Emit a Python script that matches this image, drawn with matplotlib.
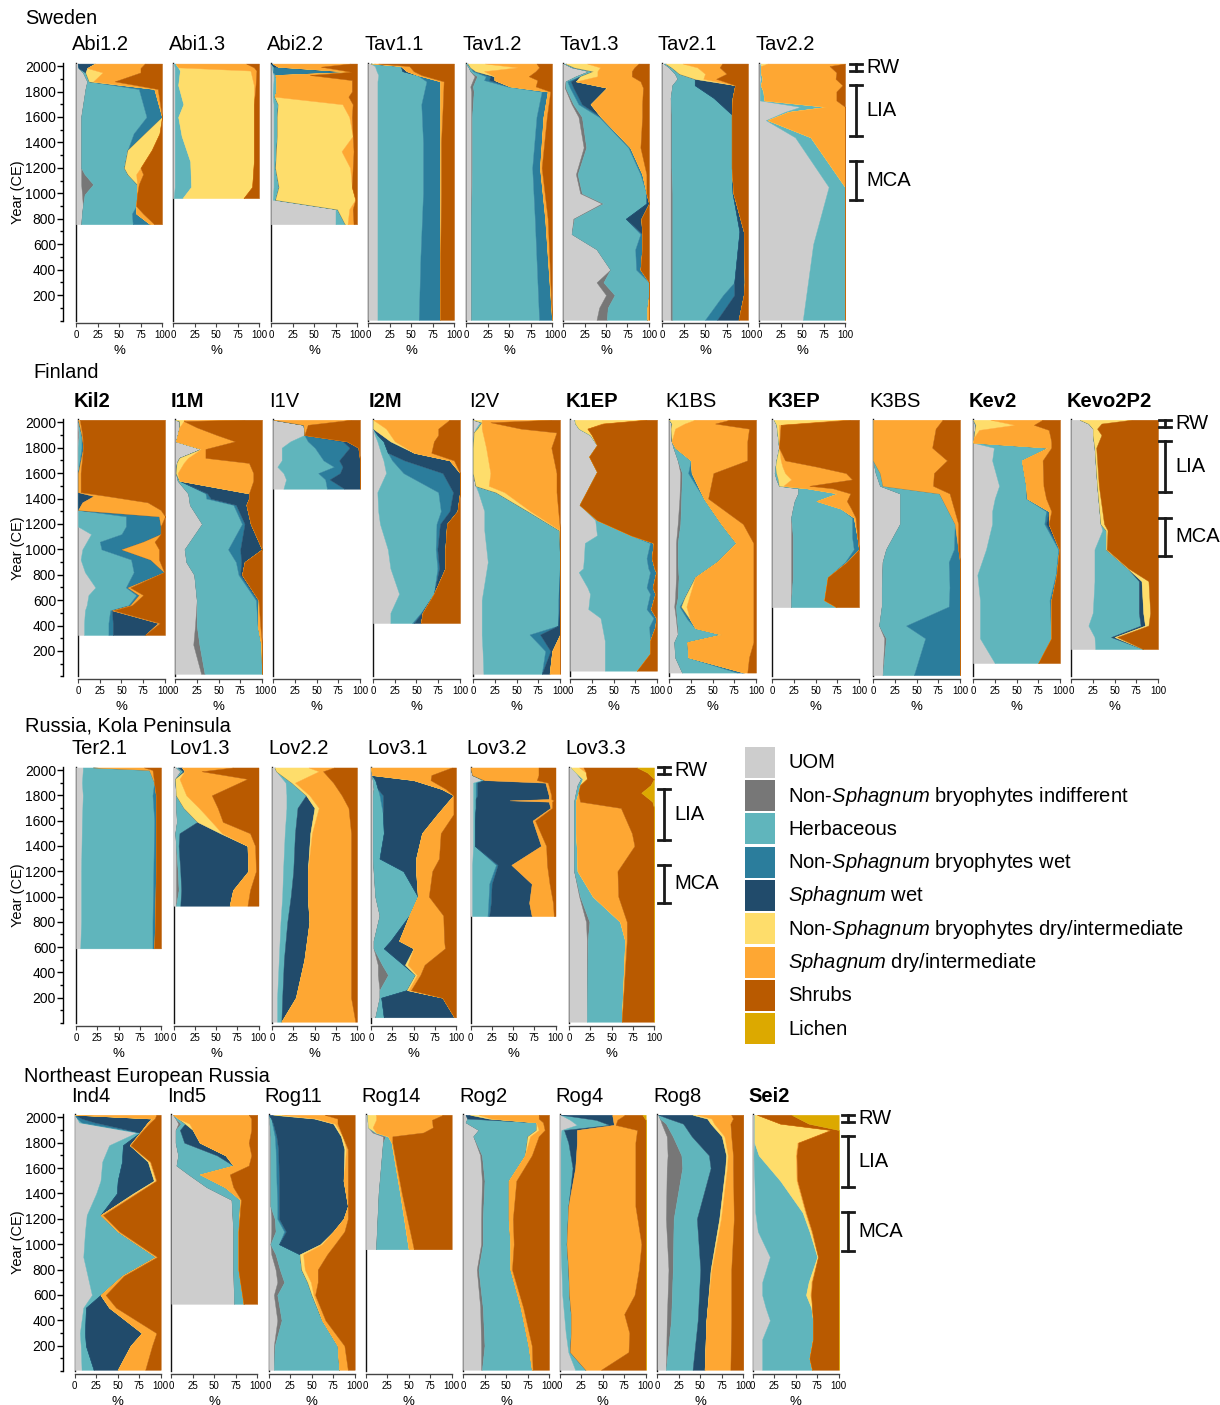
import matplotlib
matplotlib.use('Agg')
import matplotlib.pyplot as plt
from matplotlib.patches import Rectangle
import numpy as np

plt.rcParams['font.family'] = ['Liberation Sans', 'DejaVu Sans']
plt.rcParams['mathtext.fontset'] = 'custom'
plt.rcParams['mathtext.rm'] = 'Liberation Sans'
plt.rcParams['mathtext.it'] = 'Liberation Sans:italic'

GROUPS = ['UOM',
          'Non-$\\mathit{Sphagnum}$ bryophytes indifferent',
          'Herbaceous',
          'Non-$\\mathit{Sphagnum}$ bryophytes wet',
          '$\\mathit{Sphagnum}$ wet',
          'Non-$\\mathit{Sphagnum}$ bryophytes dry/intermediate',
          '$\\mathit{Sphagnum}$ dry/intermediate',
          'Shrubs',
          'Lichen']
COLOURS = ['#cdcdcd', '#777777', '#60b5bc', '#2b7d9c', '#214b6b',
           '#fedd6b', '#fea733', '#b95a00', '#dca900']

PERIODS = [('RW', 1965, 2020), ('LIA', 1450, 1850), ('MCA', 950, 1250)]

# rows: year CE, then % for each group in GROUPS order
# ---- Sweden
abi1_2 = [(2020, 2, 0, 0, 0, 20, 0, 58, 20, 0), (1985, 3, 0, 0, 0, 10, 0, 62, 25, 0),
          (1950, 8, 0, 3, 0, 0, 20, 44, 25, 0), (1880, 13, 0, 2, 0, 0, 5, 25, 55, 0),
          (1820, 11, 0, 62, 18, 0, 0, 4, 5, 0), (1600, 6, 0, 76, 18, 0, 0, 0, 0, 0),
          (1470, 6, 0, 61, 13, 0, 17, 0, 3, 0), (1340, 6, 0, 54, 0, 0, 28, 0, 12, 0),
          (1200, 6, 0, 50, 0, 0, 19, 0, 25, 0), (1150, 6, 4, 50, 0, 0, 10, 8, 22, 0),
          (1070, 6, 14, 51, 0, 0, 0, 2, 27, 0), (990, 7, 3, 61, 0, 0, 0, 0, 29, 0),
          (900, 8, 0, 62, 0, 0, 0, 0, 30, 0), (840, 7, 0, 58, 5, 0, 0, 8, 22, 0),
          (757, 6, 0, 60, 20, 0, 0, 5, 9, 0)]
abi1_3 = [(2020, 1, 0, 2, 0, 0, 0, 82, 15, 0), (1990, 2, 0, 4, 0, 0, 0, 88, 6, 0),
          (1965, 2, 0, 6, 0, 0, 82, 7, 3, 0), (1850, 2, 0, 4, 0, 0, 88, 2, 4, 0),
          (1700, 2, 0, 10, 0, 0, 82, 0, 6, 0), (1600, 2, 0, 4, 0, 0, 88, 0, 6, 0),
          (1450, 2, 0, 8, 0, 0, 84, 0, 6, 0), (1250, 2, 0, 18, 0, 0, 74, 0, 6, 0),
          (1050, 2, 0, 19, 0, 0, 71, 0, 8, 0), (962, 1, 0, 10, 0, 0, 71, 0, 18, 0)]
abi2_2 = [(2020, 0, 0, 0, 0, 2, 0, 90, 8, 0), (1995, 1, 0, 2, 0, 5, 0, 50, 42, 0),
          (1955, 2, 0, 0, 88, 4, 0, 0, 6, 0), (1930, 3, 0, 2, 0, 0, 0, 40, 55, 0),
          (1890, 3, 0, 3, 0, 0, 0, 88, 6, 0), (1800, 2, 0, 4, 0, 0, 0, 88, 6, 0),
          (1760, 2, 0, 2, 0, 0, 0, 86, 10, 0), (1700, 3, 0, 5, 0, 0, 75, 12, 5, 0),
          (1600, 3, 0, 4, 0, 0, 84, 3, 6, 0), (1450, 3, 0, 4, 0, 0, 88, 0, 5, 0),
          (1330, 3, 0, 3, 0, 0, 76, 14, 4, 0), (1200, 3, 0, 2, 0, 0, 87, 3, 5, 0),
          (1050, 3, 0, 6, 0, 0, 85, 0, 6, 0), (950, 2, 0, 3, 0, 0, 93, 0, 2, 0),
          (875, 75, 0, 2, 0, 0, 14, 4, 5, 0), (757, 75, 0, 11, 0, 0, 3, 7, 4, 0)]
tav1_1 = [(2020, 3, 0, 0, 0, 0, 4, 5, 88, 0), (2000, 8, 0, 30, 0, 0, 0, 10, 52, 0),
          (1960, 10, 0, 30, 0, 5, 0, 8, 47, 0), (1930, 12, 0, 45, 0, 0, 0, 5, 38, 0),
          (1880, 11, 0, 57, 16, 0, 0, 4, 12, 0), (1700, 11, 0, 51, 22, 0, 0, 3, 13, 0),
          (1400, 11, 0, 53, 20, 0, 0, 1, 15, 0), (1000, 11, 0, 53, 20, 0, 0, 1, 15, 0),
          (500, 11, 0, 50, 23, 0, 0, 0, 16, 0), (5, 11, 0, 48, 25, 0, 0, 0, 16, 0)]
tav1_2 = [(2020, 0, 0, 2, 0, 0, 20, 60, 18, 0), (1990, 3, 0, 2, 0, 0, 55, 25, 15, 0),
          (1960, 5, 0, 3, 3, 0, 10, 60, 19, 0), (1920, 10, 3, 10, 5, 5, 0, 40, 27, 0),
          (1890, 8, 3, 10, 6, 6, 0, 50, 17, 0), (1840, 5, 3, 40, 3, 0, 0, 30, 19, 0),
          (1800, 6, 3, 79, 7, 0, 0, 3, 2, 0), (1600, 6, 1, 75, 8, 0, 0, 4, 6, 0),
          (1200, 6, 1, 70, 9, 0, 0, 2, 12, 0), (800, 6, 0, 74, 12, 0, 0, 3, 5, 0),
          (5, 6, 0, 79, 15, 0, 0, 0, 0, 0)]
tav1_3 = [(2020, 1, 0, 2, 0, 0, 25, 60, 12, 0), (1990, 10, 0, 3, 0, 0, 30, 40, 17, 0),
          (1960, 30, 0, 5, 0, 0, 5, 40, 20, 0), (1920, 15, 0, 5, 0, 0, 20, 40, 20, 0),
          (1880, 3, 0, 2, 4, 6, 0, 75, 10, 0), (1830, 2, 1, 5, 4, 39, 0, 42, 7, 0),
          (1700, 10, 2, 6, 4, 10, 0, 60, 8, 0), (1600, 18, 4, 20, 2, 0, 0, 48, 8, 0),
          (1360, 24, 3, 49, 2, 0, 0, 12, 10, 0), (1150, 15, 2, 73, 2, 0, 0, 5, 3, 0),
          (1000, 20, 2, 75, 0, 0, 0, 0, 3, 0), (920, 45, 2, 50, 0, 3, 0, 0, 0, 0),
          (800, 12, 1, 60, 0, 18, 0, 0, 9, 0), (680, 10, 0, 80, 2, 0, 0, 0, 8, 0),
          (560, 39, 0, 45, 8, 0, 0, 0, 8, 0), (400, 55, 0, 30, 5, 0, 0, 0, 10, 0),
          (300, 39, 8, 53, 0, 0, 0, 0, 0, 0), (200, 50, 10, 40, 0, 0, 0, 0, 0, 0),
          (100, 42, 10, 46, 0, 0, 0, 2, 0, 0), (5, 39, 12, 47, 0, 0, 0, 2, 0, 0)]
tav2_1 = [(2020, 2, 0, 2, 0, 0, 20, 46, 30, 0), (1990, 8, 0, 3, 0, 0, 30, 26, 33, 0),
          (1940, 15, 0, 5, 0, 0, 30, 25, 25, 0), (1900, 18, 0, 20, 0, 0, 10, 15, 37, 0),
          (1850, 12, 0, 26, 0, 47, 0, 0, 15, 0), (1750, 10, 0, 50, 0, 22, 0, 0, 18, 0),
          (1620, 10, 1, 70, 0, 0, 0, 0, 19, 0), (1200, 10, 1, 70, 0, 0, 0, 0, 19, 0),
          (1000, 10, 2, 70, 0, 1, 0, 0, 17, 0), (700, 10, 2, 78, 0, 5, 0, 0, 5, 0),
          (300, 10, 2, 72, 0, 12, 0, 0, 4, 0), (200, 10, 2, 59, 13, 11, 0, 0, 5, 0),
          (5, 10, 2, 38, 14, 25, 0, 0, 11, 0)]
tav2_2 = [(2020, 2, 0, 0, 0, 0, 8, 90, 0, 0), (2000, 1, 0, 1, 0, 0, 0, 80, 18, 0),
          (1950, 1, 0, 1, 0, 0, 0, 88, 10, 0), (1900, 2, 0, 2, 0, 0, 0, 85, 11, 0),
          (1850, 1, 0, 1, 0, 0, 0, 95, 3, 0), (1800, 1, 0, 4, 0, 0, 0, 85, 10, 0),
          (1730, 1, 0, 5, 0, 0, 0, 84, 10, 0), (1680, 48, 0, 30, 0, 0, 0, 22, 0, 0),
          (1640, 30, 0, 4, 0, 0, 0, 66, 0, 0), (1575, 8, 0, 2, 0, 0, 0, 90, 0, 0),
          (1440, 42, 0, 18, 0, 0, 0, 40, 0, 0), (1050, 81, 0, 19, 0, 0, 0, 0, 0, 0),
          (600, 63, 0, 37, 0, 0, 0, 0, 0, 0), (5, 51, 0, 49, 0, 0, 0, 0, 0, 0)]

# ---- Finland
kil2 = [(2020, 0, 0, 0, 0, 0, 0, 2, 98, 0), (1900, 1, 0, 3, 0, 0, 0, 1, 95, 0),
        (1800, 0, 0, 4, 2, 0, 0, 0, 94, 0), (1600, 0, 0, 0, 0, 0, 0, 3, 97, 0),
        (1450, 0, 0, 0, 0, 0, 0, 3, 97, 0), (1420, 0, 0, 0, 0, 18, 0, 15, 67, 0),
        (1370, 0, 0, 0, 0, 5, 0, 75, 20, 0), (1310, 0, 0, 0, 0, 0, 0, 95, 5, 0),
        (1260, 0, 0, 55, 38, 0, 0, 7, 0, 0), (1180, 0, 0, 55, 40, 0, 0, 0, 5, 0),
        (1120, 15, 0, 35, 45, 0, 0, 0, 5, 0), (1060, 10, 0, 15, 50, 0, 0, 13, 12, 0),
        (1000, 5, 0, 22, 23, 0, 0, 43, 7, 0), (920, 3, 0, 58, 22, 0, 0, 10, 7, 0),
        (820, 8, 0, 56, 35, 0, 0, 0, 1, 0), (700, 20, 0, 35, 2, 0, 0, 3, 40, 0),
        (640, 12, 0, 55, 3, 0, 0, 5, 25, 0), (560, 10, 0, 48, 2, 0, 0, 2, 38, 0),
        (520, 8, 0, 29, 2, 0, 0, 2, 59, 0), (420, 7, 0, 28, 5, 52, 0, 2, 6, 0),
        (326, 7, 0, 28, 5, 37, 0, 0, 23, 0)]
i1m = [(2020, 0, 0, 0, 0, 0, 10, 70, 20, 0), (2010, 5, 0, 0, 0, 0, 5, 0, 90, 0),
       (1960, 5, 0, 0, 0, 0, 0, 20, 75, 0), (1900, 3, 0, 0, 0, 0, 0, 45, 52, 0),
       (1850, 1, 0, 0, 0, 0, 0, 68, 31, 0), (1790, 30, 0, 0, 0, 0, 0, 5, 65, 0),
       (1720, 5, 0, 0, 0, 0, 10, 20, 65, 0), (1680, 2, 0, 0, 0, 0, 8, 75, 15, 0),
       (1600, 1, 0, 0, 0, 0, 2, 87, 10, 0), (1540, 3, 0, 2, 0, 0, 0, 85, 10, 0),
       (1440, 15, 0, 20, 2, 48, 0, 0, 15, 0), (1400, 16, 0, 20, 5, 44, 0, 0, 15, 0),
       (1350, 17, 0, 50, 3, 12, 0, 0, 18, 0), (1200, 31, 0, 46, 3, 7, 0, 0, 13, 0),
       (1000, 11, 0, 50, 14, 25, 0, 0, 0, 0), (900, 13, 0, 57, 6, 4, 0, 0, 20, 0),
       (800, 22, 0, 51, 2, 2, 0, 0, 23, 0), (600, 25, 0, 68, 2, 1, 0, 0, 4, 0),
       (400, 23, 2, 70, 0, 0, 0, 3, 2, 0), (250, 21, 7, 71, 0, 0, 0, 1, 0, 0),
       (20, 30, 4, 66, 0, 0, 0, 0, 0, 0)]
i1v = [(2020, 0, 0, 0, 0, 0, 0, 90, 10, 0), (1980, 35, 0, 0, 0, 0, 0, 5, 60, 0),
       (1900, 36, 0, 0, 0, 0, 0, 0, 64, 0), (1850, 20, 0, 20, 40, 5, 0, 0, 15, 0),
       (1800, 10, 0, 38, 40, 10, 0, 0, 2, 0), (1700, 10, 0, 48, 18, 24, 0, 0, 0, 0),
       (1650, 5, 0, 65, 10, 20, 0, 0, 0, 0), (1600, 12, 0, 40, 25, 23, 0, 0, 0, 0),
       (1550, 15, 0, 45, 5, 35, 0, 0, 0, 0), (1477, 12, 0, 50, 20, 18, 0, 0, 0, 0)]
i2m = [(2020, 0, 0, 0, 0, 0, 0, 88, 12, 0), (1950, 0, 0, 0, 0, 0, 15, 60, 25, 0),
       (1900, 2, 0, 3, 0, 5, 10, 55, 25, 0), (1850, 5, 0, 7, 0, 8, 5, 45, 30, 0),
       (1760, 9, 0, 8, 0, 30, 0, 20, 33, 0), (1700, 12, 0, 10, 14, 52, 0, 5, 7, 0),
       (1600, 15, 0, 20, 45, 20, 0, 0, 0, 0), (1450, 5, 0, 70, 17, 8, 0, 0, 0, 0),
       (1300, 6, 0, 72, 10, 9, 0, 0, 3, 0), (1200, 8, 0, 65, 4, 8, 0, 0, 15, 0),
       (1000, 17, 0, 55, 2, 9, 0, 0, 17, 0), (850, 20, 0, 54, 2, 7, 0, 0, 17, 0),
       (650, 30, 0, 40, 0, 0, 0, 0, 30, 0), (500, 20, 0, 35, 1, 1, 0, 0, 43, 0),
       (420, 20, 0, 25, 2, 8, 0, 0, 45, 0)]
i2v = [(2020, 0, 0, 0, 0, 0, 10, 80, 10, 0), (2000, 8, 0, 2, 0, 0, 0, 10, 80, 0),
       (1950, 3, 0, 2, 0, 0, 5, 45, 45, 0), (1920, 1, 0, 0, 0, 0, 10, 85, 4, 0),
       (1800, 0, 0, 0, 0, 0, 15, 75, 10, 0), (1600, 0, 0, 0, 0, 0, 20, 76, 4, 0),
       (1500, 3, 0, 0, 0, 0, 15, 78, 4, 0), (1450, 6, 0, 20, 0, 0, 10, 60, 4, 0),
       (1300, 13, 0, 50, 0, 0, 3, 32, 2, 0), (1150, 13, 0, 86, 0, 0, 1, 0, 0, 0),
       (900, 17, 0, 83, 0, 0, 0, 0, 0, 0), (600, 10, 0, 88, 1, 1, 0, 0, 0, 0),
       (400, 10, 0, 88, 0, 2, 0, 0, 0, 0), (330, 10, 0, 55, 12, 23, 0, 0, 0, 0),
       (200, 11, 0, 72, 6, 2, 0, 9, 0, 0), (20, 12, 0, 67, 0, 9, 0, 12, 0, 0)]
k1ep = [(2020, 5, 0, 0, 0, 0, 80, 3, 12, 0), (1990, 6, 0, 0, 0, 0, 30, 2, 62, 0),
        (1950, 10, 0, 0, 0, 0, 10, 0, 80, 0), (1900, 23, 0, 0, 0, 0, 2, 0, 75, 0),
        (1820, 31, 0, 0, 0, 0, 0, 0, 69, 0), (1730, 22, 0, 0, 0, 0, 0, 0, 78, 0),
        (1610, 31, 0, 0, 0, 0, 0, 0, 69, 0), (1350, 11, 0, 0, 0, 0, 0, 0, 89, 0),
        (1230, 29, 0, 2, 0, 0, 0, 0, 69, 0), (1110, 31, 0, 39, 0, 0, 0, 0, 30, 0),
        (1050, 17, 0, 75, 4, 0, 0, 0, 4, 0), (930, 16, 0, 72, 6, 0, 0, 0, 6, 0),
        (850, 15, 0, 75, 7, 0, 0, 0, 3, 0), (820, 10, 0, 82, 7, 0, 0, 0, 1, 0),
        (700, 20, 0, 68, 7, 0, 0, 0, 5, 0), (650, 23, 0, 69, 6, 0, 0, 0, 2, 0),
        (530, 21, 0, 67, 5, 0, 0, 0, 7, 0), (460, 35, 0, 61, 3, 0, 0, 0, 1, 0),
        (390, 37, 0, 54, 7, 0, 0, 0, 2, 0), (280, 40, 0, 52, 0, 0, 0, 0, 8, 0),
        (180, 40, 0, 52, 0, 0, 0, 0, 8, 0), (45, 40, 0, 37, 0, 0, 0, 0, 23, 0)]
k1bs = [(2020, 0, 0, 0, 0, 0, 30, 40, 30, 0), (1990, 3, 0, 0, 0, 0, 15, 35, 47, 0),
        (1950, 2, 0, 0, 0, 0, 5, 85, 8, 0), (1850, 3, 0, 0, 0, 0, 0, 87, 10, 0),
        (1800, 5, 0, 2, 0, 0, 0, 83, 10, 0), (1700, 10, 0, 15, 0, 0, 0, 65, 10, 0),
        (1600, 13, 2, 7, 4, 0, 0, 25, 49, 0), (1400, 12, 2, 26, 0, 0, 0, 5, 55, 0),
        (1200, 10, 3, 47, 0, 0, 0, 25, 15, 0), (1050, 8, 2, 67, 0, 0, 0, 20, 3, 0),
        (900, 8, 2, 45, 0, 0, 0, 42, 3, 0), (780, 8, 3, 19, 0, 0, 0, 67, 3, 0),
        (620, 7, 3, 8, 0, 0, 5, 74, 3, 0), (550, 6, 2, 4, 2, 0, 6, 77, 3, 0),
        (450, 8, 1, 12, 3, 0, 0, 73, 3, 0), (380, 9, 1, 20, 0, 0, 0, 67, 3, 0),
        (330, 10, 0, 50, 0, 0, 0, 37, 3, 0), (270, 6, 0, 15, 0, 0, 0, 76, 3, 0),
        (150, 7, 0, 15, 0, 0, 0, 70, 8, 0), (30, 15, 0, 63, 6, 2, 0, 4, 10, 0)]
k3ep = [(2020, 2, 0, 0, 0, 0, 80, 8, 10, 0), (1980, 5, 0, 0, 0, 0, 3, 2, 90, 0),
        (1800, 8, 0, 0, 0, 0, 0, 0, 92, 0), (1700, 5, 0, 0, 0, 0, 5, 5, 85, 0),
        (1650, 4, 0, 0, 0, 0, 8, 40, 48, 0), (1600, 3, 0, 2, 0, 0, 10, 70, 15, 0),
        (1550, 5, 0, 2, 0, 0, 15, 70, 8, 0), (1500, 8, 0, 0, 0, 0, 5, 30, 57, 0),
        (1480, 30, 0, 10, 0, 0, 0, 30, 30, 0), (1440, 30, 0, 45, 0, 0, 0, 15, 10, 0),
        (1380, 26, 0, 25, 0, 0, 0, 35, 14, 0), (1320, 24, 0, 55, 0, 0, 0, 12, 9, 0),
        (1250, 22, 0, 70, 2, 0, 0, 2, 4, 0), (1100, 22, 2, 68, 6, 0, 0, 0, 2, 0),
        (1000, 22, 2, 70, 6, 0, 0, 0, 0, 0), (900, 22, 2, 60, 2, 0, 0, 0, 14, 0),
        (780, 22, 2, 40, 0, 0, 0, 0, 36, 0), (600, 22, 0, 38, 0, 0, 0, 0, 40, 0),
        (545, 22, 0, 52, 0, 0, 0, 0, 26, 0)]
k3bs = [(2020, 0, 0, 0, 0, 0, 0, 80, 20, 0), (1950, 0, 0, 0, 0, 0, 0, 72, 28, 0),
        (1800, 0, 0, 0, 0, 0, 0, 68, 32, 0), (1700, 0, 0, 0, 0, 0, 0, 85, 15, 0),
        (1600, 3, 0, 5, 0, 0, 0, 62, 30, 0), (1500, 8, 0, 3, 0, 0, 0, 58, 31, 0),
        (1440, 31, 0, 45, 0, 0, 0, 12, 12, 0), (1200, 31, 0, 63, 0, 0, 0, 4, 2, 0),
        (1000, 15, 0, 78, 5, 0, 0, 0, 2, 0), (900, 11, 0, 76, 13, 0, 0, 0, 0, 0),
        (700, 10, 0, 78, 12, 0, 0, 0, 0, 0), (550, 10, 0, 77, 13, 0, 0, 0, 0, 0),
        (400, 7, 0, 31, 62, 0, 0, 0, 0, 0), (300, 13, 2, 45, 40, 0, 0, 0, 0, 0),
        (10, 11, 0, 36, 53, 0, 0, 0, 0, 0)]
kev2 = [(2020, 0, 0, 0, 0, 0, 20, 60, 20, 0), (1980, 2, 0, 1, 0, 0, 45, 22, 30, 0),
        (1940, 2, 0, 0, 0, 0, 5, 80, 13, 0), (1880, 1, 0, 0, 0, 0, 0, 88, 11, 0),
        (1840, 0, 0, 0, 0, 0, 0, 90, 10, 0), (1800, 24, 0, 62, 0, 0, 0, 4, 10, 0),
        (1700, 22, 0, 34, 0, 0, 0, 24, 20, 0), (1500, 30, 0, 31, 0, 0, 0, 20, 19, 0),
        (1400, 25, 0, 36, 1, 0, 0, 22, 16, 0), (1300, 22, 0, 62, 3, 0, 0, 3, 10, 0),
        (1200, 22, 0, 60, 2, 3, 0, 0, 13, 0), (1000, 15, 0, 83, 1, 0, 0, 0, 1, 0),
        (800, 5, 0, 90, 1, 0, 0, 0, 4, 0), (600, 8, 0, 80, 2, 0, 0, 0, 10, 0),
        (300, 8, 0, 82, 0, 0, 0, 0, 10, 0), (105, 25, 0, 50, 0, 0, 0, 0, 25, 0)]
kevo2p2 = [(2020, 10, 0, 0, 0, 0, 60, 0, 30, 0), (1990, 20, 0, 0, 0, 0, 15, 0, 65, 0),
           (1950, 25, 0, 0, 0, 0, 5, 0, 70, 0), (1900, 25, 0, 0, 0, 0, 10, 0, 65, 0),
           (1800, 27, 0, 0, 0, 0, 2, 0, 71, 0), (1500, 30, 0, 0, 0, 0, 2, 0, 68, 0),
           (1200, 34, 0, 0, 0, 0, 4, 0, 62, 0), (1150, 36, 0, 4, 0, 0, 2, 0, 58, 0),
           (1000, 27, 0, 13, 0, 0, 1, 0, 59, 0), (850, 27, 0, 38, 0, 0, 1, 0, 34, 0),
           (750, 27, 0, 51, 0, 3, 8, 0, 11, 0), (500, 25, 0, 53, 0, 5, 8, 0, 9, 0),
           (400, 20, 0, 60, 0, 5, 4, 0, 11, 0), (310, 27, 0, 19, 0, 4, 3, 0, 47, 0),
           (215, 28, 0, 55, 0, 0, 0, 0, 17, 0)]

# ---- Russia, Kola Peninsula
ter2_1 = [(2020, 8, 0, 12, 0, 0, 0, 60, 20, 0), (2000, 8, 0, 78, 0, 0, 0, 4, 10, 0),
          (1900, 7, 0, 85, 0, 0, 0, 0, 8, 0), (1800, 8, 0, 82, 4, 0, 0, 0, 6, 0),
          (1600, 7, 0, 85, 2, 0, 0, 0, 6, 0), (1200, 6, 0, 85, 3, 0, 0, 0, 6, 0),
          (800, 6, 0, 84, 3, 0, 0, 0, 7, 0), (590, 5, 0, 85, 2, 0, 0, 0, 8, 0)]
lov1_3 = [(2020, 3, 0, 2, 0, 5, 0, 60, 30, 0), (1990, 8, 0, 3, 0, 2, 0, 20, 67, 0),
          (1930, 2, 0, 0, 0, 0, 5, 80, 13, 0), (1800, 3, 0, 0, 0, 0, 12, 30, 55, 0),
          (1700, 3, 0, 9, 0, 0, 18, 22, 48, 0), (1590, 4, 0, 24, 0, 0, 17, 13, 42, 0),
          (1500, 2, 0, 5, 0, 48, 2, 33, 10, 0), (1400, 3, 0, 3, 0, 81, 0, 9, 4, 0),
          (1200, 3, 2, 3, 0, 80, 0, 9, 3, 0), (1050, 3, 3, 3, 0, 61, 0, 20, 10, 0),
          (927, 3, 0, 5, 0, 58, 0, 21, 13, 0)]
lov2_2 = [(2020, 3, 0, 0, 0, 0, 40, 30, 27, 0), (1990, 5, 0, 0, 0, 0, 50, 5, 40, 0),
          (1900, 16, 0, 7, 0, 0, 4, 45, 28, 0), (1800, 17, 0, 23, 0, 0, 4, 38, 18, 0),
          (1700, 17, 0, 13, 0, 20, 5, 35, 10, 0), (1500, 15, 0, 12, 0, 18, 2, 46, 7, 0),
          (1200, 13, 0, 12, 0, 17, 0, 51, 7, 0), (1000, 12, 0, 10, 0, 20, 0, 51, 7, 0),
          (800, 10, 0, 8, 0, 26, 0, 49, 7, 0), (500, 8, 0, 6, 0, 24, 0, 55, 7, 0),
          (200, 6, 0, 6, 0, 16, 0, 65, 7, 0), (10, 6, 0, 5, 0, 0, 0, 87, 2, 0)]
lov3_1 = [(2020, 0, 0, 0, 0, 0, 0, 95, 5, 0), (1960, 1, 0, 0, 0, 0, 0, 70, 29, 0),
          (1920, 2, 0, 3, 0, 45, 0, 20, 30, 0), (1850, 3, 0, 5, 0, 75, 0, 5, 12, 0),
          (1800, 2, 0, 8, 4, 83, 0, 0, 3, 0), (1650, 2, 0, 12, 0, 64, 0, 19, 3, 0),
          (1500, 2, 0, 13, 0, 45, 0, 22, 18, 0), (1300, 2, 0, 8, 0, 43, 0, 27, 20, 0),
          (1200, 3, 0, 35, 0, 15, 0, 19, 28, 0), (1000, 5, 0, 50, 0, 0, 0, 13, 32, 0),
          (850, 10, 0, 35, 0, 0, 0, 40, 15, 0), (650, 3, 0, 20, 0, 10, 0, 53, 14, 0),
          (590, 3, 0, 12, 0, 35, 0, 37, 13, 0), (460, 8, 5, 25, 0, 2, 3, 20, 37, 0),
          (380, 8, 12, 32, 0, 0, 2, 4, 42, 0), (260, 10, 0, 32, 0, 0, 2, 3, 53, 0),
          (200, 10, 0, 2, 0, 72, 0, 0, 16, 0), (45, 5, 0, 10, 0, 83, 0, 0, 2, 0)]
lov3_2 = [(2020, 0, 0, 0, 0, 0, 0, 80, 20, 0), (1960, 2, 0, 0, 0, 0, 0, 78, 20, 0),
          (1920, 13, 0, 3, 0, 0, 0, 62, 22, 0), (1900, 3, 0, 3, 2, 80, 0, 3, 9, 0),
          (1800, 3, 0, 3, 2, 84, 0, 3, 5, 0), (1770, 3, 0, 3, 0, 86, 0, 3, 5, 0),
          (1760, 3, 0, 3, 0, 40, 0, 52, 2, 0), (1750, 3, 0, 3, 0, 86, 0, 4, 4, 0),
          (1700, 3, 0, 3, 0, 88, 0, 2, 4, 0), (1600, 3, 0, 2, 0, 68, 0, 3, 24, 0),
          (1400, 3, 0, 2, 0, 78, 0, 6, 11, 0), (1250, 2, 0, 28, 2, 16, 0, 42, 10, 0),
          (1100, 2, 0, 20, 3, 47, 0, 21, 7, 0), (950, 2, 0, 19, 3, 45, 0, 28, 3, 0),
          (845, 2, 0, 18, 2, 50, 0, 26, 2, 0)]
lov3_3 = [(2020, 2, 0, 0, 0, 0, 10, 5, 63, 20), (1980, 8, 0, 0, 0, 0, 12, 0, 72, 8),
          (1930, 14, 0, 2, 0, 0, 5, 0, 79, 0), (1880, 10, 0, 3, 0, 0, 0, 0, 83, 4),
          (1820, 8, 0, 3, 0, 0, 0, 0, 74, 15), (1750, 6, 0, 2, 0, 0, 0, 5, 85, 2),
          (1700, 6, 0, 2, 0, 0, 0, 53, 39, 0), (1500, 6, 0, 2, 0, 0, 0, 66, 26, 0),
          (1400, 6, 0, 3, 0, 0, 0, 68, 23, 0), (1200, 6, 0, 4, 0, 0, 0, 47, 43, 0),
          (1000, 12, 1, 15, 0, 0, 0, 30, 42, 0), (800, 20, 4, 36, 0, 0, 0, 8, 32, 0),
          (650, 21, 1, 44, 0, 0, 0, 2, 32, 0), (10, 21, 0, 41, 0, 0, 0, 0, 38, 0)]

# ---- Northeast European Russia
ind4 = [(2020, 0, 0, 0, 0, 0, 0, 95, 5, 0), (1990, 3, 0, 0, 5, 82, 0, 3, 7, 0),
        (1960, 5, 0, 3, 15, 62, 0, 3, 12, 0), (1880, 72, 0, 4, 0, 0, 0, 1, 23, 0),
        (1780, 40, 0, 16, 0, 8, 0, 1, 35, 0), (1650, 32, 0, 23, 0, 30, 2, 1, 12, 0),
        (1500, 30, 0, 20, 0, 42, 2, 1, 5, 0), (1400, 25, 0, 24, 0, 19, 2, 2, 28, 0),
        (1230, 14, 0, 16, 0, 0, 0, 3, 67, 0), (1100, 12, 0, 38, 0, 0, 0, 2, 48, 0),
        (900, 10, 0, 84, 0, 0, 0, 2, 4, 0), (750, 15, 0, 40, 0, 0, 0, 2, 43, 0),
        (600, 20, 0, 10, 0, 0, 0, 6, 64, 0), (500, 10, 0, 3, 0, 27, 0, 8, 52, 0),
        (300, 6, 0, 6, 0, 66, 0, 17, 5, 0), (200, 7, 0, 6, 0, 52, 0, 25, 10, 0),
        (10, 8, 0, 14, 0, 28, 0, 32, 18, 0)]
ind5 = [(2020, 2, 0, 0, 0, 0, 0, 88, 10, 0), (1990, 5, 0, 3, 0, 0, 0, 85, 7, 0),
        (1950, 8, 3, 5, 0, 0, 5, 72, 7, 0), (1900, 5, 0, 5, 0, 15, 0, 68, 7, 0),
        (1800, 5, 0, 10, 0, 18, 0, 57, 10, 0), (1700, 8, 0, 45, 0, 10, 0, 30, 7, 0),
        (1620, 6, 0, 66, 0, 0, 0, 18, 10, 0), (1550, 20, 0, 13, 0, 0, 0, 35, 32, 0),
        (1450, 41, 0, 21, 0, 0, 0, 10, 28, 0), (1350, 70, 0, 10, 0, 0, 0, 1, 19, 0),
        (1100, 72, 0, 6, 0, 0, 0, 0, 22, 0), (800, 72, 0, 6, 0, 0, 0, 0, 22, 0),
        (530, 73, 0, 11, 0, 0, 0, 0, 16, 0)]
rog11 = [(2020, 0, 0, 0, 0, 5, 10, 50, 35, 0), (1990, 1, 0, 2, 0, 50, 3, 24, 20, 0),
         (1950, 1, 0, 3, 1, 70, 2, 3, 20, 0), (1850, 2, 0, 5, 2, 75, 2, 0, 14, 0),
         (1750, 2, 0, 6, 3, 77, 2, 2, 8, 0), (1500, 2, 0, 7, 3, 75, 0, 5, 8, 0),
         (1300, 2, 0, 8, 2, 80, 0, 0, 8, 0), (1200, 3, 4, 3, 2, 75, 0, 5, 8, 0),
         (1100, 3, 5, 10, 2, 55, 0, 13, 12, 0), (1000, 2, 0, 10, 0, 48, 2, 15, 23, 0),
         (920, 3, 5, 28, 0, 0, 4, 28, 32, 0), (800, 8, 5, 25, 0, 0, 4, 15, 43, 0),
         (700, 10, 8, 27, 0, 0, 4, 8, 43, 0), (600, 6, 4, 40, 0, 0, 2, 2, 46, 0),
         (400, 10, 5, 47, 0, 0, 0, 4, 34, 0), (200, 6, 1, 73, 0, 0, 0, 8, 12, 0),
         (10, 6, 0, 76, 0, 0, 0, 10, 8, 0)]
rog14 = [(2020, 2, 0, 0, 0, 0, 10, 78, 10, 0), (1980, 2, 0, 0, 0, 0, 10, 65, 23, 0),
         (1920, 3, 0, 0, 0, 0, 5, 70, 22, 0), (1880, 8, 2, 2, 0, 0, 0, 55, 33, 0),
         (1850, 20, 3, 3, 0, 0, 0, 5, 69, 0), (1800, 20, 0, 10, 0, 0, 0, 1, 69, 0),
         (1400, 15, 0, 25, 0, 0, 0, 2, 58, 0), (960, 12, 0, 38, 0, 0, 0, 6, 44, 0)]
rog2 = [(2020, 3, 0, 0, 0, 5, 10, 70, 12, 0), (1990, 5, 0, 0, 0, 25, 3, 55, 12, 0),
        (1960, 3, 0, 82, 0, 0, 0, 8, 7, 0), (1900, 18, 0, 67, 0, 0, 3, 7, 5, 0),
        (1850, 12, 0, 63, 0, 0, 3, 10, 12, 0), (1700, 20, 2, 50, 0, 0, 0, 8, 20, 0),
        (1500, 22, 3, 28, 0, 0, 0, 9, 38, 0), (1200, 21, 2, 30, 0, 0, 0, 5, 42, 0),
        (1000, 21, 2, 32, 0, 0, 0, 4, 41, 0), (800, 16, 2, 37, 0, 0, 0, 2, 43, 0),
        (500, 20, 3, 44, 0, 0, 0, 3, 30, 0), (200, 21, 4, 51, 0, 0, 0, 4, 20, 0),
        (10, 21, 1, 58, 0, 0, 0, 1, 19, 0)]
rog4 = [(2020, 1, 0, 0, 0, 60, 0, 15, 20, 4), (1980, 12, 0, 30, 0, 20, 0, 5, 33, 0),
        (1940, 20, 0, 38, 0, 5, 0, 2, 35, 0), (1900, 2, 0, 3, 0, 15, 0, 70, 10, 0),
        (1800, 1, 0, 9, 0, 10, 0, 68, 12, 0), (1600, 1, 0, 14, 0, 3, 0, 70, 12, 0),
        (1300, 1, 0, 9, 0, 0, 0, 78, 12, 0), (1000, 1, 0, 7, 0, 0, 0, 87, 5, 0),
        (800, 2, 0, 8, 0, 0, 0, 82, 8, 0), (600, 3, 0, 8, 0, 0, 0, 76, 13, 0),
        (450, 5, 0, 8, 0, 0, 0, 62, 25, 0), (300, 7, 0, 6, 0, 0, 0, 68, 19, 0),
        (150, 10, 0, 2, 0, 0, 0, 68, 20, 0), (10, 18, 0, 12, 0, 0, 0, 18, 52, 0)]
rog8 = [(2020, 1, 0, 0, 0, 40, 5, 40, 14, 0), (1990, 3, 0, 10, 0, 45, 5, 25, 12, 0),
        (1950, 5, 5, 20, 0, 32, 4, 19, 15, 0), (1850, 11, 7, 22, 0, 35, 3, 8, 14, 0),
        (1700, 12, 16, 32, 0, 20, 2, 6, 12, 0), (1600, 11, 18, 33, 0, 17, 2, 7, 12, 0),
        (1200, 10, 9, 27, 0, 26, 2, 15, 11, 0), (800, 13, 5, 32, 0, 12, 1, 23, 14, 0),
        (400, 11, 5, 31, 0, 10, 0, 29, 14, 0), (10, 10, 0, 31, 0, 14, 0, 30, 15, 0)]
sei2 = [(2020, 2, 0, 0, 0, 0, 3, 0, 40, 55), (1950, 2, 0, 0, 0, 0, 30, 0, 33, 35),
        (1900, 2, 0, 0, 0, 0, 88, 1, 9, 0), (1800, 2, 0, 0, 0, 0, 50, 1, 47, 0),
        (1700, 1, 0, 6, 0, 0, 43, 1, 49, 0), (1500, 2, 0, 30, 0, 0, 19, 1, 48, 0),
        (1250, 3, 0, 55, 0, 0, 3, 1, 38, 0), (1100, 6, 0, 60, 0, 0, 2, 1, 31, 0),
        (900, 20, 0, 55, 0, 0, 1, 0, 24, 0), (700, 11, 0, 54, 0, 0, 3, 1, 31, 0),
        (600, 11, 0, 51, 0, 0, 5, 1, 32, 0), (500, 15, 0, 53, 0, 0, 1, 0, 31, 0),
        (400, 20, 0, 50, 0, 0, 0, 0, 30, 0), (250, 11, 0, 59, 0, 0, 0, 0, 30, 0),
        (100, 11, 0, 55, 0, 0, 0, 0, 34, 0), (10, 11, 0, 58, 0, 0, 0, 0, 31, 0)]

REGIONS = [
    dict(title='Sweden', title_x=25, title_y=18, year0=320.5, scale=0.1272,
         lefts=[76, 173, 271, 368, 466, 563, 662, 759], width=86, bar_x=856,
         cores=[('Abi1.2', abi1_2, False), ('Abi1.3', abi1_3, False), ('Abi2.2', abi2_2, False),
                ('Tav1.1', tav1_1, False), ('Tav1.2', tav1_2, False), ('Tav1.3', tav1_3, False),
                ('Tav2.1', tav2_1, False), ('Tav2.2', tav2_2, False)]),
    dict(title='Finland', title_x=33, title_y=372, year0=676.4, scale=0.12706,
         lefts=[78, 175, 273, 373, 473, 570, 669, 772, 873, 973, 1071], width=87, bar_x=1165,
         cores=[('Kil2', kil2, True), ('I1M', i1m, True), ('I1V', i1v, False),
                ('I2M', i2m, True), ('I2V', i2v, False), ('K1EP', k1ep, True),
                ('K1BS', k1bs, False), ('K3EP', k3ep, True), ('K3BS', k3bs, False),
                ('Kev2', kev2, True), ('Kevo2P2', kevo2p2, True)]),
    dict(title='Russia, Kola Peninsula', title_x=25, title_y=726, year0=1023, scale=0.1265,
         lefts=[76, 173.5, 272, 371, 470.5, 569], width=85, bar_x=664,
         cores=[('Ter2.1', ter2_1, False), ('Lov1.3', lov1_3, False), ('Lov2.2', lov2_2, False),
                ('Lov3.1', lov3_1, False), ('Lov3.2', lov3_2, False), ('Lov3.3', lov3_3, False)]),
    dict(title='Northeast European Russia', title_x=24, title_y=1076, year0=1371.1, scale=0.1269,
         lefts=[74.7, 171.3, 268.7, 365.7, 463, 559.7, 657.3, 752.7], width=86, bar_x=848,
         cores=[('Ind4', ind4, False), ('Ind5', ind5, False), ('Rog11', rog11, False),
                ('Rog14', rog14, False), ('Rog2', rog2, False), ('Rog4', rog4, False),
                ('Rog8', rog8, False), ('Sei2', sei2, True)]),
]

W, H = 1220, 1405
YMAX = 2025
fig = plt.figure(figsize=(W / 100, H / 100), dpi=100)


def px_axes(x, top, w, h):
    return fig.add_axes([x / W, 1 - (top + h) / H, w / W, h / H])


def draw_core(ax, rows):
    arr = np.array(rows, dtype=float)
    years = arr[:, 0]
    pct = arr[:, 1:]
    pct = pct / pct.sum(axis=1, keepdims=True) * 100
    right = np.cumsum(pct, axis=1)
    left = right - pct
    for k, col in enumerate(COLOURS):
        if pct[:, k].max() <= 0:
            continue
        ax.fill_betweenx(years, left[:, k], right[:, k], facecolor=col,
                         edgecolor=col, linewidth=0.3, zorder=3)


for reg in REGIONS:
    h = YMAX * reg['scale']
    top = reg['year0'] - h

    fig.text(reg['title_x'] / W, 1 - reg['title_y'] / H, reg['title'],
             fontsize=14.4, va='center', ha='left')
    fig.text(18 / W, 1 - (top + h / 2) / H, 'Year (CE)', rotation=90,
             fontsize=10.5, va='center', ha='center')

    # shared year scale
    ay = px_axes(63, top, 1, h)
    ay.set_ylim(0, YMAX)
    ay.patch.set_visible(False)
    for s in ('top', 'right', 'bottom'):
        ay.spines[s].set_visible(False)
    ay.spines['left'].set_linewidth(1)
    ay.set_xticks([])
    ay.set_yticks(range(200, 2001, 200))
    ay.set_yticks(range(0, 2001, 100), minor=True)
    ay.tick_params(axis='y', which='major', labelsize=10, length=4, width=1, pad=1)
    ay.tick_params(axis='y', which='minor', length=2.5, width=1)

    for (name, rows, bold), left in zip(reg['cores'], reg['lefts']):
        ax = px_axes(left, top, reg['width'], h)
        ax.set_xlim(0, 100)
        ax.set_ylim(0, YMAX)
        ax.patch.set_visible(False)
        ax.spines['top'].set_visible(False)
        ax.spines['right'].set_visible(False)
        ax.spines['left'].set_color('#111111')
        ax.spines['left'].set_linewidth(1)
        ax.spines['bottom'].set_position(('outward', 2))
        ax.spines['bottom'].set_color('#444444')
        ax.spines['bottom'].set_linewidth(1)
        ax.set_yticks([])
        ax.set_xticks([0, 25, 50, 75, 100])
        ax.tick_params(axis='x', labelsize=7, length=3, width=0.8, pad=2,
                       color='#444444')
        ax.set_xlabel('%', fontsize=9.5, labelpad=3.5)
        draw_core(ax, rows)
        ax.annotate(name, (0, 1), xycoords='axes fraction', xytext=(-4, 18),
                    textcoords='offset pixels', fontsize=14.5, ha='left', va='center',
                    fontweight='bold' if bold else 'normal')

    # climate periods
    ab = px_axes(reg['bar_x'] - 8, top, 70, h)
    ab.set_xlim(0, 70)
    ab.set_ylim(0, YMAX)
    ab.axis('off')
    for label, y0, y1 in PERIODS:
        ab.plot([8, 8], [y0, y1], color='#1a1a1a', lw=2, clip_on=False)
        ab.plot([2, 14], [y0, y0], color='#1a1a1a', lw=2, clip_on=False)
        ab.plot([2, 14], [y1, y1], color='#1a1a1a', lw=2, clip_on=False)
        ab.text(18, (y0 + y1) / 2, label, fontsize=14.5, va='center', ha='left')

# legend
for i, (lab, col) in enumerate(zip(GROUPS, COLOURS)):
    ytop = 746.7 + i * 33.3
    fig.patches.append(Rectangle((745 / W, 1 - (ytop + 31) / H), 30 / W, 31 / H,
                                 transform=fig.transFigure, facecolor=col,
                                 edgecolor='none'))
    fig.text(788 / W, 1 - (ytop + 16) / H, lab, fontsize=14.5, va='center', ha='left')

fig.savefig('out.png', dpi=100)
